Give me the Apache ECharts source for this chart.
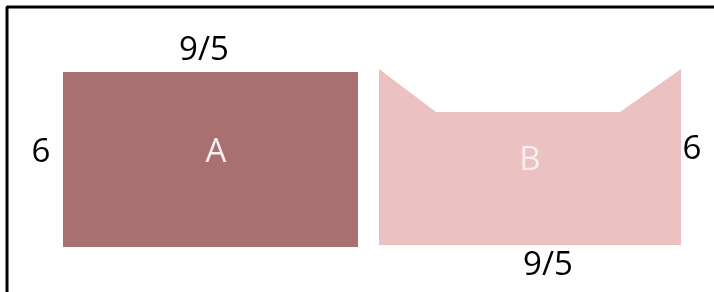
<!DOCTYPE html>
<html>
<head>
<meta charset="utf-8">
<script src="https://cdn.jsdelivr.net/npm/echarts@6/dist/echarts.min.js"></script>
<style>
  html, body { margin: 0; padding: 0; background: #fff; }
  #chart { width: 714px; height: 292px; }
</style>
</head>
<body>
<div id="chart"></div>
<script>
// diagram coordinates (one unit = one pixel of the reference)
const shapeA = [[63, 72], [358, 72], [358, 247], [63, 247]];
const shapeB = [[379, 69], [436, 112], [620, 112], [681, 69], [681, 245], [379, 245]];
const frame = [[7, 292], [7, 7], [714, 7]];

const shapeNames = ['A', 'B'];
const shapeNamePos = [[216, 153], [530, 161]];

const sizeLabels = ['9/5', '6', '9/5', '6'];
const sizeLabelPos = [[204, 51], [41, 153], [548, 266], [692, 150]];

const chart = echarts.init(document.getElementById('chart'));

function polygonSeries(points, color) {
  return {
    type: 'custom',
    silent: true,
    coordinateSystem: 'cartesian2d',
    data: [0],
    renderItem: (params, api) => ({
      type: 'polygon',
      shape: { points: points.map(p => api.coord(p)) },
      style: { fill: color }
    })
  };
}

function textSeries(texts, pos, color) {
  return {
    type: 'custom',
    silent: true,
    coordinateSystem: 'cartesian2d',
    data: pos.map((p, i) => ({ value: p, name: texts[i] })),
    renderItem: (params, api) => {
      const pt = api.coord([api.value(0), api.value(1)]);
      return {
        type: 'text',
        x: pt[0],
        y: pt[1],
        style: {
          text: texts[params.dataIndex],
          fill: color,
          fontSize: 33,
          fontFamily: 'Open Sans',
          align: 'center',
          verticalAlign: 'middle'
        }
      };
    }
  };
}

chart.setOption({
  animation: false,
  grid: { left: 0, right: 0, top: 0, bottom: 0 },
  xAxis: { type: 'value', min: 0, max: 714, show: false },
  yAxis: { type: 'value', min: 0, max: 292, inverse: true, show: false },
  series: [
    {
      type: 'line',
      silent: true,
      symbol: 'none',
      data: frame,
      lineStyle: { color: '#000', width: 3 }
    },
    polygonSeries(shapeA, '#a87070'),
    polygonSeries(shapeB, '#ebc1c1'),
    textSeries(shapeNames, shapeNamePos, '#f6eeee'),
    textSeries(sizeLabels, sizeLabelPos, '#000')
  ]
});
</script>
</body>
</html>
